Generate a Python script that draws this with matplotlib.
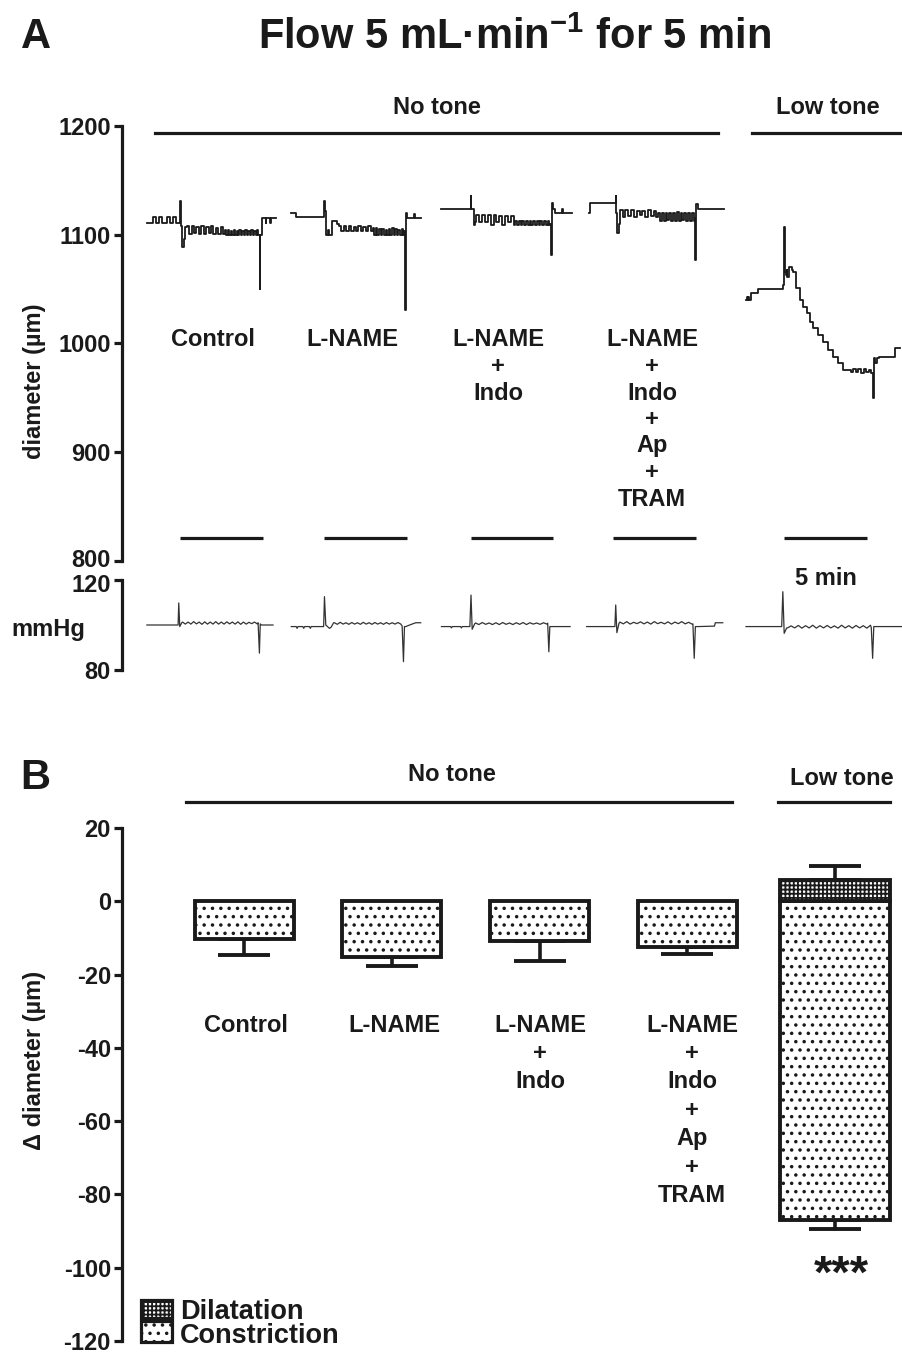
import numpy as np
import matplotlib.pyplot as plt
from matplotlib.lines import Line2D
from matplotlib.patches import Rectangle
from matplotlib.transforms import ScaledTranslation

plt.rcParams['font.family'] = ['Liberation Sans', 'DejaVu Sans']
plt.rcParams['font.weight'] = 'bold'
plt.rcParams['mathtext.fontset'] = 'custom'
plt.rcParams['mathtext.rm'] = 'Liberation Sans:bold'
plt.rcParams['mathtext.default'] = 'rm'
plt.rcParams['hatch.linewidth'] = 1.3
plt.rcParams['axes.unicode_minus'] = False

# ---------------- data ----------------
# panel A: traces, time in min from flow onset
# parts are either (t list, value list) or (t_start, t_end, ripple values)
groups = ['Control', 'L-NAME', 'L-NAME\n+\nIndo', 'L-NAME\n+\nIndo\n+\nAp\n+\nTRAM']
flow_min = 5

ctrl_diam = [(-2.0, -0.05, [1111, 1111, 1116, 1111, 1116, 1111, 1111, 1116, 1111, 1116, 1111, 1111]),
             ([0.0, 0.04, 0.12, 0.22, 0.32], [1131, 1108, 1089, 1096, 1107]),
             (0.4, 2.6, [1108, 1101, 1108, 1102, 1107, 1101, 1108, 1101, 1107, 1102, 1108, 1101, 1106,
                         1101, 1107, 1101]),
             (2.7, 4.72, [1104, 1100, 1104, 1100, 1103, 1100, 1104, 1100, 1103, 1100, 1104, 1100, 1103,
                          1100, 1104, 1100, 1103, 1100, 1104, 1100, 1103, 1100, 1104, 1100]),
             ([4.76, 4.8, 4.84, 4.95, 5.15, 5.2, 5.4, 5.45, 5.75], [1100, 1050, 1100, 1115, 1111, 1115, 1111, 1115, 1115])]
lname_diam = [(-2.0, -0.05, [1120, 1116, 1116, 1116, 1116, 1116, 1116, 1116]),
              ([0.0, 0.04, 0.1, 0.2, 0.3, 0.45, 0.75], [1131, 1122, 1100, 1104, 1100, 1113, 1110]),
              (0.85, 2.8, [1108, 1103, 1108, 1103, 1108, 1103, 1107, 1103, 1108, 1103, 1107, 1103, 1108, 1103]),
              (2.9, 4.75, [1106, 1100, 1106, 1100, 1105, 1100, 1105, 1100, 1104, 1100, 1105, 1100,
                           1106, 1100, 1105, 1100, 1104, 1100, 1105, 1100]),
              ([4.8, 4.85, 4.9, 5.0, 5.4, 5.45, 5.8], [1103, 1031, 1120, 1115, 1119, 1115, 1115])]
indo_diam = [([-1.75, -0.05, 0.0, 0.04, 0.2, 0.3], [1124, 1124, 1136, 1124, 1109, 1112]),
             (0.35, 2.6, [1118, 1112, 1118, 1112, 1118, 1109, 1118, 1112, 1117, 1109, 1117,
                          1112, 1117, 1109]),
             (2.7, 4.75, [1113, 1109, 1113, 1109, 1113, 1109, 1113, 1109, 1113, 1109, 1113, 1109,
                          1113, 1109, 1113, 1109, 1113, 1109, 1113, 1109]),
             ([4.8, 4.85, 4.9, 5.0, 5.1, 5.5, 5.55, 6.1], [1110, 1081, 1129, 1124, 1120, 1124, 1120, 1120])]
tram_diam = [([-1.45, -1.4, 0.15, 0.19, 0.25, 0.35], [1120, 1129, 1136, 1120, 1102, 1110]),
             (0.4, 2.6, [1123, 1116, 1123, 1117, 1123, 1116, 1122, 1118, 1122, 1116, 1123, 1117, 1122, 1116]),
             (2.7, 4.85, [1120, 1113, 1120, 1113, 1120, 1114, 1120, 1113, 1120, 1113, 1121, 1113,
                          1120, 1114, 1120, 1113, 1120, 1113, 1120, 1113]),
             ([4.9, 4.95, 5.0, 5.1, 6.7], [1115, 1077, 1128, 1124, 1124])]
low_diam = [([-2.3, -2.25, -2.2, -2.15, -2.1, -2.0, -1.6, -0.5, -0.1, 0.0, 0.04, 0.1, 0.15, 0.2, 0.3, 0.45],
             [1040, 1043, 1040, 1043, 1040, 1046, 1050, 1050, 1054, 1107, 1066, 1063, 1068, 1061, 1070, 1068]),
            ([0.55, 0.7, 0.95, 1.15, 1.35, 1.55, 1.75, 2.05, 2.35, 2.65, 2.95, 3.25, 3.55],
             [1066, 1051, 1040, 1034, 1028, 1020, 1014, 1008, 1001, 994, 988, 982, 976]),
            (4.0, 5.25, [974, 977, 974, 977, 973, 977, 974, 976, 973]),
            ([5.3, 5.35, 5.4, 5.5, 5.6, 5.7, 6.65, 6.7, 7.0], [973, 950, 987, 982, 987, 988, 988, 996, 996])]

ctrl_press = [([-2.0, -0.12, -0.08, -0.02, 0.1], [100, 100, 109.8, 99.3, 101]),
              (0.15, 4.65, [101.3, 100.4, 101.3, 100.4, 101.5, 100.5, 101.3, 100.3, 101.4, 100.4, 101.3, 100.4, 101.5, 100.4,
                            101.3, 100.4, 101.4, 100.5, 101.3, 100.4, 101.4, 100.3, 101.3, 100.4, 101.2, 100.6, 101.3, 100.5]),
              ([4.7, 4.78, 4.83, 4.9, 5.6], [101, 87.5, 100.5, 100, 100])]
lname_press = [([-2.0, -1.7, -1.65, -1.6, -1.3, -1.25, -1.2, -0.9, -0.85, -0.8, -0.05, 0.0, 0.08, 0.3, 0.4, 0.55],
                [99.3, 99.3, 98.5, 99.3, 99.3, 98.5, 99.3, 99.3, 98.5, 99.3, 99.3, 112.6, 100, 98.5, 99, 101]),
               (0.6, 4.6, [101, 100.3, 101.2, 100.4, 101, 100.3, 101.1, 100.4, 101, 100.3, 101.2, 100.4,
                           101, 100.3, 101.1, 100.4, 101, 100.3, 101.1, 100.4, 101, 100.4, 101.1, 100.4]),
               ([4.68, 4.76, 4.82, 4.9, 5.2, 5.5, 5.8], [99.5, 83.7, 99.3, 99.3, 100.2, 101, 101])]
indo_press = [([-1.75, -1.2, -1.15, -1.1, -0.6, -0.55, -0.5, -0.04, 0.03, 0.1, 0.25],
               [99.3, 99.3, 98.7, 99.3, 99.3, 98.7, 99.3, 99.3, 113.3, 98.1, 100.5]),
              (0.3, 4.6, [100.9, 100.2, 101.1, 100.3, 100.9, 100.2, 101.0, 100.2, 101.1, 100.3, 100.9,
                          100.2, 101.0, 100.3, 101.1, 100.2, 101.0, 100.4, 100.9, 100.3, 101.0, 100.4]),
              ([4.65, 4.72, 4.78, 4.9, 6.0], [100.8, 88.1, 99.3, 99.3, 99.3])]
tram_press = [([-1.6, 0.1, 0.15, 0.22, 0.35], [99.3, 99.3, 108.9, 96.6, 100.8]),
              (0.4, 4.75, [101.3, 100.5, 101.5, 100.4, 101.2, 100.6, 101.4, 100.5, 101.3, 100.4, 101.5,
                           100.6, 101.2, 100.5, 101.4, 100.4, 101.3, 100.6, 101.5, 100.5, 101.2, 100.4]),
              ([4.8, 4.88, 4.95, 5.1, 6.1, 6.15, 6.6], [100.5, 85.2, 99.3, 99.3, 99.5, 101, 101])]
low_press = [([-2.3, -0.15, -0.08, 0.0, 0.15], [99.3, 99.3, 114.8, 96.3, 98.7]),
             (0.2, 5.2, [98.7, 99.6, 98.7, 99.8, 98.6, 99.7, 98.7, 99.9, 98.6, 99.7, 98.7, 99.8,
                         98.7, 99.6, 98.6, 99.9, 98.7, 99.7, 98.6, 99.8, 98.7, 99.7, 98.6, 99.9]),
             ([5.25, 5.33, 5.4, 5.5, 7.1], [98.8, 85.2, 99.3, 99.3, 99.3])]

diam_traces = [ctrl_diam, lname_diam, indo_diam, tram_diam, low_diam]
press_traces = [ctrl_press, lname_press, indo_press, tram_press, low_press]

# panel B: change in diameter (µm), mean and SEM
bar_groups = ['Control', 'L-NAME', 'L-NAME\n+\nIndo', 'L-NAME\n+\nIndo\n+\nAp\n+\nTRAM', 'Low tone']
constriction = [-10.2, -15.3, -10.9, -12.5, -87.0]
constriction_sem = [4.5, 2.4, 5.5, 2.0, 2.5]
dilatation = [0, 0, 0, 0, 5.7]
dilatation_sem = [0, 0, 0, 0, 3.8]

# ---------------- layout ----------------
INK = '#1a1a1a'
W, H = 902, 1353
fig = plt.figure(figsize=(W / 100, H / 100), dpi=100)


def box(l, t, r, b):
    return [l / W, 1 - b / H, (r - l) / W, (b - t) / H]


def ftext(x, y, s, **kw):
    kw.setdefault('ha', 'center')
    kw.setdefault('va', 'center')
    kw.setdefault('fontsize', 17)
    fig.text(x / W, 1 - y / H, s, color=INK, **kw)


def fline(x0, x1, y, lw=2.3):
    fig.add_artist(Line2D([x0 / W, x1 / W], [1 - y / H, 1 - y / H], lw=lw, color=INK))


def build(parts):
    ts, vs = [], []
    for p in parts:
        if len(p) == 3:
            t = np.linspace(p[0], p[1], len(p[2]))
            v = p[2]
        else:
            t, v = p
        ts.extend(t)
        vs.extend(v)
    return np.array(ts), np.array(vs)


def style_axis(ax, ticks, size=17):
    for s in ['top', 'right', 'bottom']:
        ax.spines[s].set_visible(False)
    ax.spines['left'].set_linewidth(2.3)
    ax.spines['left'].set_color(INK)
    ax.set_xticks([])
    ax.set_yticks(ticks)
    ax.tick_params(axis='y', length=6, width=2.3, color=INK, labelsize=size, labelcolor=INK, pad=2)
    ax.patch.set_alpha(0)


onsets = np.array([3.5, 12.2, 21.0, 29.6, 39.9])   # min from left axis
xmax = 47.0

# panel A, diameter
axA = fig.add_axes(box(122, 126, 902, 561))
axA.set_xlim(0, xmax)
axA.set_ylim(800, 1200)
style_axis(axA, range(800, 1201, 100))
for on, parts in zip(onsets, diam_traces):
    t, v = build(parts)
    axA.plot(on + t, v, color=INK, lw=1.3, drawstyle='steps-post')
axA.hlines(np.full(len(onsets), 821), onsets, onsets + flow_min, color=INK, lw=2.3)

# panel A, pressure
axP = fig.add_axes(box(122, 580, 902, 670))
axP.set_xlim(0, xmax)
axP.set_ylim(80, 120)
style_axis(axP, [80, 120])
for on, parts in zip(onsets, press_traces):
    t, v = build(parts)
    axP.plot(on + t, v, color='#333333', lw=0.9)
# the 800 and 120 labels sit tight together; nudge them apart a little
lab800 = axA.get_yticklabels()[0]
lab800.set_transform(lab800.get_transform() + ScaledTranslation(0, 3 / 100, fig.dpi_scale_trans))
lab120 = axP.get_yticklabels()[-1]
lab120.set_transform(lab120.get_transform() + ScaledTranslation(0, -3 / 100, fig.dpi_scale_trans))

ftext(36, 37, 'A', fontsize=30)
ftext(514, 38, r'Flow 5 mL·min$^{-1}$ for 5 min', fontsize=30)
ftext(437, 107, 'No tone')
ftext(828, 108, 'Low tone')
fline(155, 718, 133)
fline(752, 902, 133)
ftext(35, 381, 'diameter (µm)', rotation=90)
ftext(48, 630, 'mmHg')
ftext(826, 578, '5 min')
for cx, lab in zip([213, 352, 498, 652], groups):
    for i, line in enumerate(lab.split('\n')):
        ftext(cx, 340 + 26.5 * i, line)

# panel B
axB = fig.add_axes(box(122, 828, 902, 1341))
axB.set_xlim(-0.826, 4.453)
axB.set_ylim(-120, 20)
style_axis(axB, range(-120, 21, 20))
x = np.arange(len(bar_groups))
widths = np.array([0.67, 0.67, 0.67, 0.67, 0.745])
zeros = np.zeros(len(x))
axB.errorbar(x, constriction, yerr=[constriction_sem, zeros], fmt='none', ecolor=INK,
             elinewidth=2.6, capsize=19, capthick=2.8, zorder=2)
axB.bar(x, constriction, width=widths, facecolor='white', edgecolor=INK, linewidth=2.8,
        hatch='..', zorder=3)
dil = np.array(dilatation) > 0
axB.errorbar(x[dil], np.array(dilatation)[dil], yerr=[zeros[dil], np.array(dilatation_sem)[dil]],
             fmt='none', ecolor=INK, elinewidth=2.6, capsize=19, capthick=2.8, zorder=2)
axB.bar(x[dil], np.array(dilatation)[dil], width=widths[dil], facecolor='white',
        edgecolor=INK, linewidth=2.8, hatch='++++', zorder=3)

ftext(35, 778, 'B', fontsize=30)
ftext(452, 775, 'No tone')
ftext(842, 778, 'Low tone')
fline(186, 732, 802)
fline(778, 890, 802)
ftext(35, 1060, 'Δ diameter (µm)', rotation=90)
for cx, lab in zip([246, 394, 540, 692], bar_groups[:4]):
    for i, line in enumerate(lab.split('\n')):
        ftext(cx, 1025 + 28.5 * i, line)
ftext(841, 1276, '***', fontsize=34)

# legend
for y0, y1, hatch, lab in [(1300, 1318, '++++', 'Dilatation'), (1321, 1342, '..', 'Constriction')]:
    fig.add_artist(Rectangle((141 / W, 1 - y1 / H), 31 / W, (y1 - y0) / H, facecolor='white',
                             edgecolor=INK, lw=2.3, hatch=hatch, transform=fig.transFigure))
    ftext(180, y1 + 1, lab, ha='left', va='baseline', fontsize=19.5)

plt.savefig('out.png', dpi=100)
